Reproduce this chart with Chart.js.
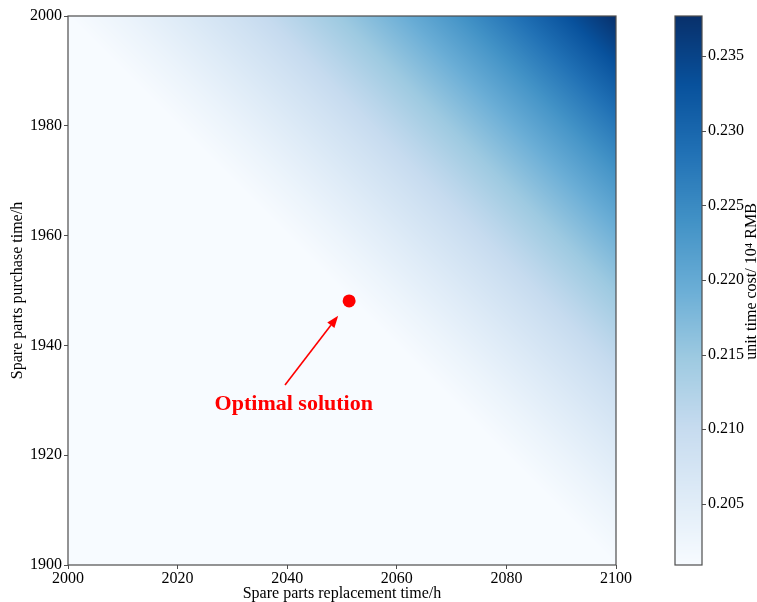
<!DOCTYPE html>
<html>
<head>
<meta charset="utf-8">
<script src="https://cdn.jsdelivr.net/npm/chart.js@4.4.1/dist/chart.umd.min.js"></script>
<style>
  html, body { margin: 0; padding: 0; background: #ffffff; overflow: hidden; }
  #wrap { position: relative; width: 757px; height: 602px; }
  canvas { display: block; }
</style>
</head>
<body>
<div id="wrap"><canvas id="costMap"></canvas></div>
<script>
// Grid of the cost surface: spare parts replacement time (x) vs purchase time (y)
const replacementTimes = [2000, 2010, 2020, 2030, 2040, 2050, 2060, 2070, 2080, 2090, 2100];
const purchaseTimes    = [1900, 1910, 1920, 1930, 1940, 1950, 1960, 1970, 1980, 1990, 2000];

// unit time cost (10^4 RMB); one row per purchase time, columns follow replacementTimes
const unitCost = [
  [0.2009, 0.2009, 0.2009, 0.2009, 0.2009, 0.2009, 0.2009, 0.2009, 0.2009, 0.2009, 0.2009],
  [0.2009, 0.2009, 0.2009, 0.2009, 0.2009, 0.2009, 0.2009, 0.2009, 0.2009, 0.2009, 0.2030],
  [0.2009, 0.2009, 0.2009, 0.2009, 0.2009, 0.2009, 0.2009, 0.2009, 0.2009, 0.2030, 0.2055],
  [0.2009, 0.2009, 0.2009, 0.2009, 0.2009, 0.2009, 0.2009, 0.2009, 0.2030, 0.2055, 0.2083],
  [0.2009, 0.2009, 0.2009, 0.2009, 0.2009, 0.2009, 0.2009, 0.2030, 0.2055, 0.2083, 0.2115],
  [0.2009, 0.2009, 0.2009, 0.2009, 0.2009, 0.2009, 0.2030, 0.2055, 0.2083, 0.2115, 0.2150],
  [0.2009, 0.2009, 0.2009, 0.2009, 0.2009, 0.2030, 0.2055, 0.2083, 0.2115, 0.2150, 0.2188],
  [0.2009, 0.2009, 0.2009, 0.2009, 0.2030, 0.2055, 0.2083, 0.2115, 0.2150, 0.2188, 0.2230],
  [0.2009, 0.2009, 0.2009, 0.2030, 0.2055, 0.2083, 0.2115, 0.2150, 0.2188, 0.2230, 0.2276],
  [0.2009, 0.2009, 0.2030, 0.2055, 0.2083, 0.2115, 0.2150, 0.2188, 0.2230, 0.2276, 0.2325],
  [0.2009, 0.2030, 0.2055, 0.2083, 0.2115, 0.2150, 0.2188, 0.2230, 0.2276, 0.2325, 0.2377]
];

const xTicks = [2000, 2020, 2040, 2060, 2080, 2100];
const yTicks = [1900, 1920, 1940, 1960, 1980, 2000];
const costTicks = [0.205, 0.210, 0.215, 0.220, 0.225, 0.230, 0.235];
const costMin = 0.2009;
const costMax = 0.2377;

// optimum and its annotation (data coordinates)
const optimum = { x: 2051.3, y: 1948.1 };
const optimumText = 'Optimal solution';
const textAt = { x: 2041.2, y: 1929.2 };
const arrowFrom = { x: 2039.6, y: 1932.8 };
const arrowTo = { x: 2049.3, y: 1945.4 };

const xTitle = 'Spare parts replacement time/h';
const yTitle = 'Spare parts purchase time/h';
const costTitle = 'unit time cost/ 10\u2074 RMB';

const SERIF = "'Liberation Serif', 'Times New Roman', Times, serif";
const FRAME = '#4d4d4d';

// matplotlib "Blues" colour ramp
const BLUES = ['#f7fbff', '#deebf7', '#c6dbef', '#9ecae1', '#6baed6', '#4292c6', '#2171b5', '#08519c', '#08306b']
  .map(h => [parseInt(h.slice(1, 3), 16), parseInt(h.slice(3, 5), 16), parseInt(h.slice(5, 7), 16)]);

function blues(t) {
  t = Math.max(0, Math.min(1, t));
  const p = t * (BLUES.length - 1);
  const i = Math.min(Math.floor(p), BLUES.length - 2);
  const f = p - i;
  const a = BLUES[i], b = BLUES[i + 1];
  return [0, 1, 2].map(k => Math.round(a[k] + (b[k] - a[k]) * f));
}
const norm = v => (v - costMin) / (costMax - costMin);

// cost at a data position: each grid cell is shaded as two linear triangles
// split along its anti-diagonal
function costAt(xv, yv) {
  const nx = replacementTimes.length, ny = purchaseTimes.length;
  const sx = replacementTimes[1] - replacementTimes[0];
  const sy = purchaseTimes[1] - purchaseTimes[0];
  let fi = (xv - replacementTimes[0]) / sx, fj = (yv - purchaseTimes[0]) / sy;
  fi = Math.max(0, Math.min(nx - 1, fi)); fj = Math.max(0, Math.min(ny - 1, fj));
  const i = Math.min(Math.floor(fi), nx - 2), j = Math.min(Math.floor(fj), ny - 2);
  const u = fi - i, v = fj - j;
  const z00 = unitCost[j][i], z10 = unitCost[j][i + 1], z01 = unitCost[j + 1][i], z11 = unitCost[j + 1][i + 1];
  if (u + v <= 1) return z00 + u * (z10 - z00) + v * (z01 - z00);
  return z11 + (1 - u) * (z01 - z11) + (1 - v) * (z10 - z11);
}

const heatmapPlugin = {
  id: 'heatmap',
  beforeDatasetsDraw(chart) {
    const { ctx, chartArea: a, scales: { x, y } } = chart;
    const L = Math.round(a.left), T = Math.round(a.top);
    const W = Math.round(a.right) - L, H = Math.round(a.bottom) - T;
    const img = ctx.createImageData(W, H);
    for (let py = 0; py < H; py++) {
      const yv = y.getValueForPixel(T + py + 0.5);
      for (let px = 0; px < W; px++) {
        const xv = x.getValueForPixel(L + px + 0.5);
        const c = blues(norm(costAt(xv, yv)));
        const idx = (py * W + px) * 4;
        img.data[idx] = c[0]; img.data[idx + 1] = c[1]; img.data[idx + 2] = c[2]; img.data[idx + 3] = 255;
      }
    }
    ctx.putImageData(img, L, T);
  },
  afterDatasetsDraw(chart) {
    const { ctx, chartArea: a, scales: { x, y, c } } = chart;

    // plot frame
    ctx.save();
    ctx.strokeStyle = FRAME;
    ctx.lineWidth = 1.2;
    ctx.strokeRect(a.left, a.top, a.width, a.height);

    // arrow to the optimum
    const x0 = x.getPixelForValue(arrowFrom.x), y0 = y.getPixelForValue(arrowFrom.y);
    const x1 = x.getPixelForValue(arrowTo.x), y1 = y.getPixelForValue(arrowTo.y);
    const ang = Math.atan2(y1 - y0, x1 - x0);
    const headLen = 12, headHalf = 4.5;
    const bx = x1 - headLen * Math.cos(ang), by = y1 - headLen * Math.sin(ang);
    ctx.strokeStyle = '#ff0000';
    ctx.fillStyle = '#ff0000';
    ctx.lineWidth = 1.6;
    ctx.beginPath();
    ctx.moveTo(x0, y0);
    ctx.lineTo(bx, by);
    ctx.stroke();
    ctx.beginPath();
    ctx.moveTo(x1, y1);
    ctx.lineTo(bx + headHalf * Math.sin(ang), by - headHalf * Math.cos(ang));
    ctx.lineTo(bx - headHalf * Math.sin(ang), by + headHalf * Math.cos(ang));
    ctx.closePath();
    ctx.fill();

    // annotation text
    ctx.font = 'bold 22px ' + SERIF;
    ctx.textAlign = 'center';
    ctx.textBaseline = 'middle';
    ctx.fillText(optimumText, x.getPixelForValue(textAt.x), y.getPixelForValue(textAt.y));

    // colour bar
    const barL = a.right + 59, barW = 27;
    const top = c.getPixelForValue(costMax), bottom = c.getPixelForValue(costMin);
    for (let py = Math.floor(top); py < Math.ceil(bottom); py++) {
      const col = blues(norm(c.getValueForPixel(py + 0.5)));
      ctx.fillStyle = 'rgb(' + col.join(',') + ')';
      ctx.fillRect(barL, py, barW, 1);
    }
    ctx.strokeStyle = FRAME;
    ctx.lineWidth = 1.2;
    ctx.strokeRect(barL, top, barW, bottom - top);
    ctx.lineWidth = 1;
    costTicks.forEach(v => {
      const py = Math.round(c.getPixelForValue(v)) + 0.5;
      ctx.beginPath();
      ctx.moveTo(barL + barW, py);
      ctx.lineTo(barL + barW + 4, py);
      ctx.stroke();
    });

    // colour bar title, reading bottom to top
    ctx.fillStyle = '#000000';
    ctx.font = '16px ' + SERIF;
    ctx.translate(barL + barW + 50, (top + bottom) / 2 - 9);
    ctx.rotate(-Math.PI / 2);
    ctx.textAlign = 'center';
    ctx.textBaseline = 'middle';
    ctx.fillText(costTitle, 0, 0);
    ctx.restore();
  }
};

const tickFont = { family: SERIF, size: 16 };

new Chart(document.getElementById('costMap'), {
  type: 'scatter',
  data: {
    datasets: [{
      data: [optimum],
      pointRadius: 6.5,
      pointHoverRadius: 6.5,
      backgroundColor: '#ff0000',
      borderWidth: 0
    }]
  },
  options: {
    responsive: true,
    maintainAspectRatio: false,
    animation: false,
    devicePixelRatio: 1,
    layout: { padding: { top: 16, left: 0, right: 0, bottom: 0 } },
    plugins: { legend: { display: false }, tooltip: { enabled: false } },
    scales: {
      x: {
        type: 'linear', position: 'bottom', min: 2000, max: 2100,
        afterBuildTicks: s => { s.ticks = xTicks.map(v => ({ value: v })); },
        afterFit: s => { s.height = 37; },
        ticks: { font: tickFont, color: '#000', padding: 0, maxRotation: 0, callback: v => String(v) },
        grid: { drawOnChartArea: false, tickLength: 4, tickColor: FRAME },
        border: { display: false },
        title: { display: true, text: xTitle, font: { family: SERIF, size: 16, lineHeight: 1 }, color: '#000', padding: 0 }
      },
      y: {
        type: 'linear', position: 'left', min: 1900, max: 2000,
        afterBuildTicks: s => { s.ticks = yTicks.map(v => ({ value: v })); },
        afterFit: s => { s.width = 68; s.paddingTop = 0; s.paddingBottom = 0; },
        ticks: { font: tickFont, color: '#000', padding: 2, callback: v => String(v) },
        grid: { drawOnChartArea: false, tickLength: 4, tickColor: FRAME },
        border: { display: false },
        title: { display: true, text: yTitle, font: { family: SERIF, size: 16, lineHeight: 1 }, color: '#000', padding: { top: 10, bottom: 0 } }
      },
      c: {
        type: 'linear', position: 'right', min: costMin, max: costMax,
        afterBuildTicks: s => { s.ticks = costTicks.map(v => ({ value: v })); },
        afterFit: s => { s.width = 141; s.paddingTop = 0; s.paddingBottom = 0; },
        ticks: { font: tickFont, color: '#000', padding: 84, callback: v => v.toFixed(3) },
        grid: { display: false },
        border: { display: false }
      }
    }
  },
  plugins: [heatmapPlugin]
});
</script>
</body>
</html>
